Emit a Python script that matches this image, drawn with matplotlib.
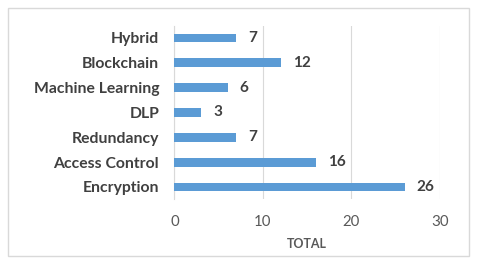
import matplotlib
matplotlib.use("Agg")
import matplotlib.pyplot as plt
from matplotlib.patches import Rectangle

categorias = ["Encryption", "Access Control", "Redundancy", "DLP",
              "Machine Learning", "Blockchain", "Hybrid"]
totais = [26, 16, 7, 3, 6, 12, 7]
ticks_x = [0, 10, 20, 30]

plt.rcParams['font.family'] = ['Lato', 'DejaVu Sans']

fig = plt.figure(figsize=(4.8, 2.67), dpi=100)
ax = fig.add_axes([0.3635, 0.2532, 0.553, 0.651])

# moldura em volta do grafico
fig.patches.append(Rectangle((0.0167, 0.041), 0.96, 0.929, transform=fig.transFigure,
                             fill=False, edgecolor='#d9d9d9', linewidth=1.0))

pos = range(len(categorias))
ax.barh(pos, totais, height=0.36, color='#5b9bd5', zorder=3)
for i, v in enumerate(totais):
    ax.text(v + 1.35, i, str(v), va='center', ha='left', fontsize=11,
            fontweight='bold', color='#404040')

ax.set_xlim(0, 30)
ax.set_ylim(-0.5, len(categorias) - 0.5)
ax.set_yticks(list(pos))
ax.set_yticklabels(categorias, fontsize=11.3, fontweight='bold', color='#404040')
ax.set_xticks(ticks_x)
ax.set_xticklabels([str(t) for t in ticks_x], fontsize=10.8, color='#595959')
ax.tick_params(length=0)
ax.tick_params(axis='y', pad=11)
ax.tick_params(axis='x', pad=11)
ax.grid(axis='x', color='#d9d9d9', linewidth=0.8, zorder=0)
for s in ['top', 'right', 'bottom']:
    ax.spines[s].set_visible(False)
ax.spines['left'].set_color('#d9d9d9')
ax.set_xlabel('TOTAL', fontsize=9, fontweight='bold', color='#595959', labelpad=7)

fig.savefig('out.png', dpi=100)
